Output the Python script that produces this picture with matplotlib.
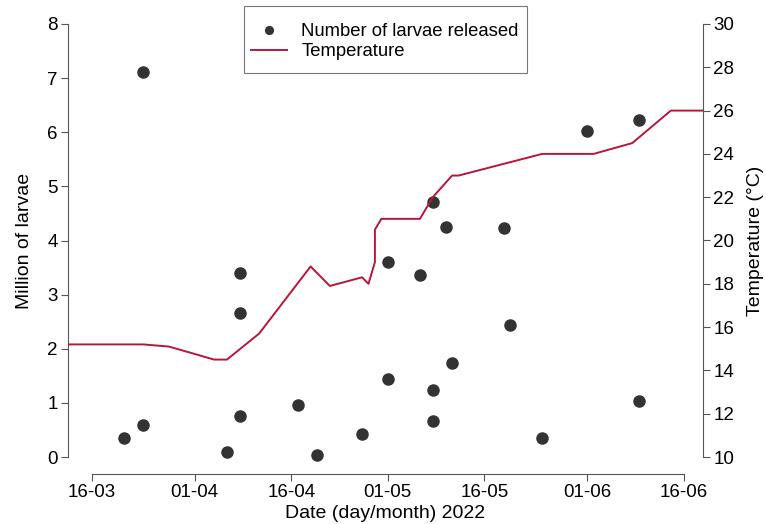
import datetime as dt
import matplotlib
matplotlib.use('Agg')
from matplotlib import pyplot as plt
from matplotlib.patches import Rectangle
import matplotlib.dates as mdates

plt.rcParams['font.family'] = ['Liberation Sans', 'DejaVu Sans']

# larvae released (million)
larvae_dates = ['2022-03-21', '2022-03-24', '2022-03-24', '2022-04-06', '2022-04-08', '2022-04-08',
                '2022-04-08', '2022-04-17', '2022-04-20', '2022-04-27', '2022-05-01', '2022-05-01',
                '2022-05-06', '2022-05-08', '2022-05-08', '2022-05-08', '2022-05-10', '2022-05-11',
                '2022-05-19', '2022-05-20', '2022-05-25', '2022-06-01', '2022-06-09', '2022-06-09']
larvae = [0.35, 7.12, 0.60, 0.09, 3.40, 2.66, 0.75, 0.96, 0.04, 0.42, 3.60, 1.45,
          3.36, 4.71, 1.23, 0.66, 4.25, 1.74, 4.24, 2.43, 0.36, 6.02, 6.23, 1.04]

# temperature (C)
temp_dates = ['2022-03-12', '2022-03-24', '2022-03-28', '2022-04-04', '2022-04-06', '2022-04-11',
              '2022-04-19', '2022-04-22', '2022-04-27', '2022-04-28', '2022-04-29', '2022-04-29',
              '2022-04-30', '2022-05-06', '2022-05-08', '2022-05-11', '2022-05-12', '2022-05-25',
              '2022-06-02', '2022-06-08', '2022-06-14', '2022-06-19']
temp = [15.2, 15.2, 15.1, 14.5, 14.5, 15.7, 18.8, 17.9, 18.3, 18.0, 19.0, 20.5,
        21.0, 21.0, 22.0, 23.0, 23.0, 24.0, 24.0, 24.5, 26.0, 26.0]

tick_dates = ['2022-03-16', '2022-04-01', '2022-04-16', '2022-05-01', '2022-05-16', '2022-06-01', '2022-06-16']

to_d = lambda s: dt.datetime.strptime(s, '%Y-%m-%d')
larvae_x = [to_d(s) for s in larvae_dates]
temp_x = [to_d(s) for s in temp_dates]
ticks_x = [to_d(s) for s in tick_dates]

grey = '#555555'
fig = plt.figure(figsize=(7.66, 5.24), dpi=100)
ax = fig.add_axes([68/766, 67/524, 635/766, 433/524])
ax2 = ax.twinx()

ax.plot(larvae_x, larvae, 'o', color='#333333', markersize=8, clip_on=False, zorder=3,
        label='Number of larvae released')
ax2.plot(temp_x, temp, '-', color='#B5173A', linewidth=1.4, label='Temperature')

ax.set_xlim(temp_x[0] + dt.timedelta(hours=7), temp_x[-1])
ax.set_ylim(0, 8)
ax2.set_ylim(10, 30)
ax.set_xticks(ticks_x)
ax.xaxis.set_major_formatter(mdates.DateFormatter('%d-%m'))
ax.set_yticks(range(0, 9))
ax2.set_yticks(range(10, 31, 2))

for a in (ax, ax2):
    for s in a.spines.values():
        s.set_color(grey)
        s.set_linewidth(0.8)
    a.spines['top'].set_visible(False)
    a.tick_params(colors=grey, labelcolor='black', labelsize=13.5, length=5, width=0.8, pad=2.5)
ax.spines['right'].set_visible(False)
ax2.spines['left'].set_visible(False)
ax2.spines['bottom'].set_visible(False)
ax.spines['bottom'].set_position(('outward', 12))
ax.spines['bottom'].set_bounds(mdates.date2num(ticks_x[0]), mdates.date2num(ticks_x[-1]))

ax.set_ylabel('Million of larvae', fontsize=14, labelpad=10)
ax2.set_ylabel('Temperature (°C)', fontsize=14, labelpad=9)
ax.set_xlabel('Date (day/month) 2022', fontsize=14, labelpad=3)

h1, l1 = ax.get_legend_handles_labels()
h2, l2 = ax2.get_legend_handles_labels()
leg = fig.legend(h1 + h2, l1 + l2, loc='upper left', bbox_to_anchor=(245/766, 1 - 17/524),
                 fontsize=13.3, frameon=False, borderpad=0.35, borderaxespad=0,
                 markerscale=0.7, handlelength=1.9, handletextpad=0.8, labelspacing=0.15)
# legend frame, taller than matplotlib's single borderpad gives
fig.patches.append(Rectangle((244/766, 1 - 73/524), 283/766, 67/524, transform=fig.transFigure,
                             fill=False, edgecolor='#777777', linewidth=0.8))

fig.savefig('out.png', dpi=100)
